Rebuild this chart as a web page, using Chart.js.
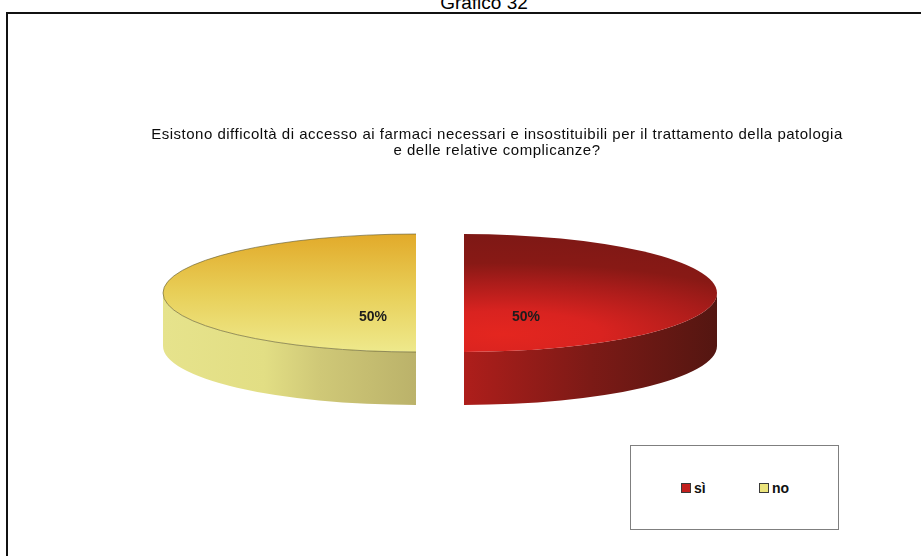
<!DOCTYPE html>
<html>
<head>
<meta charset="utf-8">
<script src="https://cdn.jsdelivr.net/npm/chart.js@4.4.1/dist/chart.umd.min.js"></script>
<style>
  html, body { margin: 0; padding: 0; background: #fff; }
  body { position: relative; width: 921px; height: 556px; overflow: hidden;
         font-family: "Liberation Sans", Arial, sans-serif; }
  #caption { position: absolute; left: 384px; width: 200px; top: -7px; font-size: 19px;
             line-height: 19px; text-align: center; color: #000; }
  #frame { position: absolute; left: 6px; top: 12px; width: 940px; height: 580px;
           border-left: 2px solid #111; border-top: 2px solid #111; }
  #chart { position: absolute; left: 0; top: 0; }
  #title { position: absolute; left: 47px; width: 900px; top: 126px; font-size: 15px;
           letter-spacing: 0.5px; line-height: 16px; text-align: center; color: #0c0c0c; }
  #legend { position: absolute; left: 630px; top: 445px; width: 207px; height: 83px;
            border: 1px solid #7f7f7f; background: #fff; }
  .item { position: absolute; top: 34px; height: 16px; display: flex; align-items: center;
          font-weight: bold; font-size: 14px; color: #111; }
  .swatch { width: 8px; height: 8px; border: 1px solid #3a3a3a; margin-right: 3px; }
</style>
</head>
<body>
<div id="caption">Grafico 32</div>
<div id="frame"></div>
<canvas id="chart" width="921" height="556"></canvas>
<div id="title">Esistono difficoltà di accesso ai farmaci necessari e insostituibili per il trattamento della patologia<br>e delle relative complicanze?</div>
<div id="legend"></div>
<script>
// Answers and their share of respondents (%)
const categories = ['sì', 'no'];
const shares = [50, 50];
const swatchColors = ['#c21f1d', '#ebe47c'];

// 3D look of the pie
const TILT = 59 / 253;   // vertical squash of the disc
const DEPTH = 53;        // thickness of the disc
const GAP = 24;          // explode distance of each slice
const LABEL_REACH = [0.245, 0.17];

function topFill(chart, i) {
  const area = chart.chartArea;
  if (!area) return swatchColors[i];
  const ctx = chart.ctx;
  const x = (area.left + area.right) / 2;
  const y = (area.top + area.bottom) / 2;
  const R = 253;
  if (i === 0) {
    const gx = x + 0.15 * R, gy = y + 0.7 * R;
    const g = ctx.createRadialGradient(gx, gy, 0, gx, gy, 1.8 * R);
    g.addColorStop(0, '#e4261f');
    g.addColorStop(0.22, '#d92320');
    g.addColorStop(0.5, '#a81c1a');
    g.addColorStop(0.67, '#881915');
    g.addColorStop(1, '#7c1815');
    return g;
  }
  const g = ctx.createLinearGradient(0, y - R, 0, y + R);
  g.addColorStop(0, '#e2aa2a');
  g.addColorStop(0.5, '#e8cf58');
  g.addColorStop(1, '#eee98c');
  return g;
}

function sideFill(ctx, i, cx, R) {
  if (i === 0) {
    const g = ctx.createLinearGradient(cx, 0, cx + R, 0);
    g.addColorStop(0, '#ae1e1b');
    g.addColorStop(0.5, '#7c1a16');
    g.addColorStop(1, '#541611');
    return g;
  }
  const g = ctx.createLinearGradient(cx - R, 0, cx, 0);
  g.addColorStop(0, '#e6e38c');
  g.addColorStop(0.4, '#e2de84');
  g.addColorStop(0.62, '#cfc877');
  g.addColorStop(1, '#bbb26a');
  return g;
}

// Draws each arc as an exploded, tilted disc slice with a visible rim
const pie3d = {
  id: 'pie3d',
  beforeDatasetsDraw(chart) {
    const ctx = chart.ctx;
    const meta = chart.getDatasetMeta(0);
    meta.data.forEach((arc, i) => {
      const p = arc.getProps(['x', 'y', 'startAngle', 'endAngle', 'outerRadius']);
      const mid = (p.startAngle + p.endAngle) / 2;
      const cx = p.x + Math.cos(mid) * GAP;
      const cy = p.y + Math.sin(mid) * GAP * TILT;
      const R = p.outerRadius, r = R * TILT;

      // front rim (only the part facing the viewer)
      const a0 = Math.max(p.startAngle, 0), a1 = Math.min(p.endAngle, Math.PI);
      if (a1 > a0) {
        ctx.save();
        ctx.beginPath();
        ctx.ellipse(cx, cy, R, r, 0, a0, a1);
        ctx.lineTo(cx + R * Math.cos(a1), cy + r * Math.sin(a1) + DEPTH);
        ctx.ellipse(cx, cy + DEPTH, R, r, 0, a1, a0, true);
        ctx.closePath();
        ctx.fillStyle = sideFill(ctx, i, cx, R);
        ctx.fill();
        ctx.restore();
      }

      // top face
      ctx.save();
      ctx.translate(cx, cy);
      ctx.scale(1, TILT);
      ctx.translate(-p.x, -p.y);
      arc.draw(ctx);
      ctx.restore();

      // fine edge around the pale slice
      if (i === 1) {
        ctx.save();
        ctx.beginPath();
        ctx.ellipse(cx, cy, R, r, 0, p.startAngle, p.endAngle);
        ctx.strokeStyle = 'rgba(90,86,45,0.75)';
        ctx.lineWidth = 0.8;
        ctx.stroke();
        ctx.restore();
      }
    });
    return false;
  },
  afterDraw(chart) {
    const ctx = chart.ctx;
    const meta = chart.getDatasetMeta(0);
    ctx.save();
    ctx.font = 'bold 14px "Liberation Sans", Arial, sans-serif';
    ctx.fillStyle = '#1c1c1c';
    ctx.textAlign = 'center';
    ctx.textBaseline = 'middle';
    meta.data.forEach((arc, i) => {
      const p = arc.getProps(['x', 'y', 'startAngle', 'endAngle', 'outerRadius']);
      const mid = (p.startAngle + p.endAngle) / 2;
      const cx = p.x + Math.cos(mid) * GAP;
      const cy = p.y + Math.sin(mid) * GAP * TILT;
      const R = p.outerRadius;
      const lx = cx + Math.cos(mid) * R * LABEL_REACH[i];
      const ly = cy + R * TILT * 0.41;
      ctx.fillText(shares[i] + '%', lx, ly);
    });
    ctx.restore();
  }
};

new Chart(document.getElementById('chart'), {
  type: 'pie',
  data: {
    labels: categories,
    datasets: [{
      data: shares,
      backgroundColor: (c) => topFill(c.chart, c.dataIndex),
      borderWidth: 0,
      radius: 253
    }]
  },
  options: {
    responsive: false,
    animation: false,
    devicePixelRatio: 1,
    layout: { padding: { left: 0, right: 41, top: 30, bottom: 0 } },
    plugins: {
      legend: { display: false },
      tooltip: { enabled: false },
      title: { display: false }
    }
  },
  plugins: [pie3d]
});

// legend entries
const legend = document.getElementById('legend');
categories.forEach((name, i) => {
  const item = document.createElement('div');
  item.className = 'item';
  item.style.left = (50 + i * 78) + 'px';
  const sw = document.createElement('span');
  sw.className = 'swatch';
  sw.style.background = swatchColors[i];
  const label = document.createElement('span');
  label.textContent = name;
  item.appendChild(sw);
  item.appendChild(label);
  legend.appendChild(item);
});
</script>
</body>
</html>
